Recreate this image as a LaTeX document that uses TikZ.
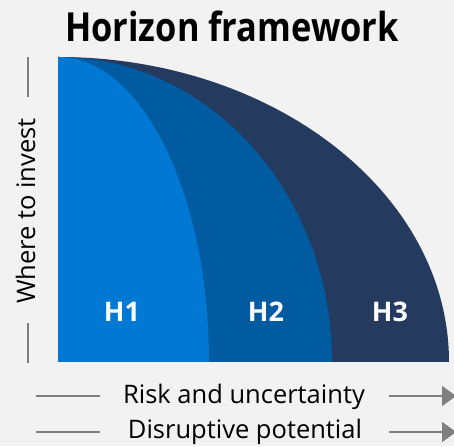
\documentclass[tikz,border=0pt]{standalone}
\usepackage{fontspec}
\setmainfont{Open Sans}
\newfontfamily\titlefont{Open Sans}[FakeStretch=0.86]
\usetikzlibrary{arrows.meta}

\definecolor{bgGray}{HTML}{F2F2F2}
\definecolor{hOne}{HTML}{0078D4}
\definecolor{hTwo}{HTML}{005BA1}
\definecolor{hThree}{HTML}{243A5E}
\definecolor{axisGray}{HTML}{808080}

\begin{document}
\begin{tikzpicture}[
    x=1pt, y=1pt,
    axisline/.style={draw=axisGray, line width=2pt},
    axisarrow/.style={axisline, -{Triangle[length=14pt, width=20pt]}},
    hlabel/.style={text=white, font=\fontsize{27}{30}\selectfont\bfseries, anchor=base},
    axislabel/.style={font=\fontsize{25.5}{28}\selectfont, anchor=base},
  ]
  \fill[bgGray] (0,0) rectangle (454,446);
  \useasboundingbox (0,0) rectangle (454,446);

  % the three horizons, widest first
  \fill[hThree] (58,84) -- (58,389) arc[start angle=90, end angle=0, x radius=391, y radius=305] -- cycle;
  \fill[hTwo] (58,84) -- (58,389) arc[start angle=90, end angle=0, x radius=274, y radius=305] -- cycle;
  \fill[hOne] (58,84) -- (58,389) arc[start angle=90, end angle=0, x radius=151, y radius=305] -- cycle;

  \node[hlabel] (h1) at (122,124) {H1};
  \node[hlabel] (h2) at (266,124) {H2};
  \node[hlabel] (h3) at (390,124) {H3};

  \node[anchor=base, font=\titlefont\fontsize{40}{44}\selectfont\bfseries] (title) at (232,404) {Horizon framework};

  % vertical axis
  \node[axislabel, rotate=90] (invest) at (35,235) {Where to invest};
  \coordinate (investTopA) at (28,349);
  \coordinate (investTopB) at (28,389);
  \coordinate (investBotA) at (28,123);
  \coordinate (investBotB) at (28,83);
  \draw[axisline] (investTopA) -- (investTopB);
  \draw[axisline] (investBotA) -- (investBotB);

  % horizontal axes
  \node[axislabel] (risk) at (244,42) {Risk and uncertainty};
  \node[axislabel] (disrupt) at (245,7) {Disruptive potential};
  \coordinate (riskL) at (36,50);
  \coordinate (riskLend) at (100,50);
  \coordinate (riskR) at (389,50);
  \coordinate (riskRend) at (456,50);
  \coordinate (disruptL) at (36,14);
  \coordinate (disruptLend) at (100,14);
  \coordinate (disruptR) at (389,14);
  \coordinate (disruptRend) at (456,14);
  \draw[axisline] (riskL) -- (riskLend);
  \draw[axisarrow] (riskR) -- (riskRend);
  \draw[axisline] (disruptL) -- (disruptLend);
  \draw[axisarrow] (disruptR) -- (disruptRend);
\end{tikzpicture}
\end{document}
